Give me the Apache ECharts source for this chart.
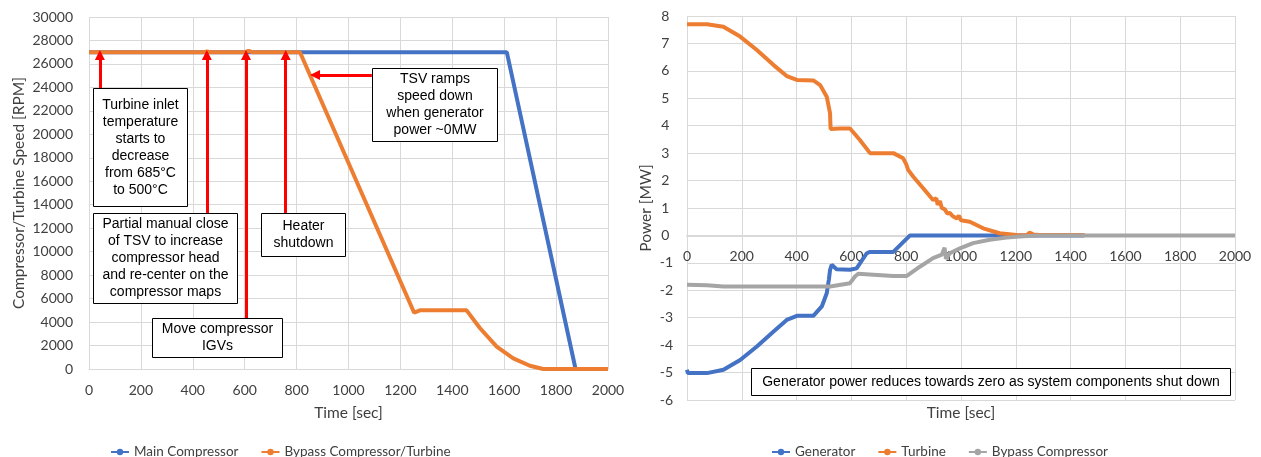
<!DOCTYPE html>
<html><head><meta charset="utf-8">
<script src="https://cdn.jsdelivr.net/npm/echarts@6/dist/echarts.min.js"></script>
<style>html,body{margin:0;padding:0;background:#fff}#c{width:1261px;height:457px}</style>
</head><body><div id="c"></div>
<script>
// left chart: speed [RPM] vs time [sec]
var mainCompressor = [[0,27000],[1610,27000],[1875,0],[2000,0]];
var bypassTurbine = [[0,27000],[440,27000],[455,27060],[470,27000],[600,27000],[615,27120],[630,27000],[813,27000],
  [1253,4800],[1275,5000],[1455,5000],[1507,3470],[1571,1900],[1635,910],[1699,280],[1750,0],[2000,0]];

// right chart: power [MW] vs time [sec]
var generator = [[0,-4.90],[3,-5.02],[73,-5.02],[133,-4.90],[194,-4.54],[255,-4.05],[316,-3.50],[364,-3.08],[401,-2.93],
  [461,-2.93],[492,-2.59],[510,-2.11],[518,-1.6],[522,-1.26],[528,-1.07],[546,-1.23],[595,-1.25],[619,-1.2],
  [656,-0.65],[668,-0.6],[753,-0.6],[814,0],[1450,0]];
var turbine = [[0,7.70],[73,7.70],[133,7.61],[194,7.25],[255,6.76],[316,6.21],[364,5.81],[401,5.67],[461,5.65],
  [486,5.48],[510,5.06],[522,4.46],[524,3.88],[558,3.90],[595,3.90],[631,3.48],[668,3.0],[753,3.0],[789,2.81],
  [800,2.6],[807,2.39],[826,2.14],[862,1.72],[898,1.29],[910,1.35],[915,1.12],[923,1.25],[930,1.0],[941,0.95],
  [950,0.8],[959,0.82],[970,0.7],[985,0.62],[992,0.72],[1000,0.55],[1032,0.50],[1081,0.26],[1141,0.08],
  [1202,0.02],[1240,0.01],[1250,0.1],[1265,0.03],[1287,0.02],[1451,0.02]];
var bypassCompressor = [[0,-1.80],[73,-1.82],[133,-1.86],[522,-1.86],[595,-1.74],[613,-1.50],[625,-1.40],[680,-1.43],
  [753,-1.48],[801,-1.48],[850,-1.14],[898,-0.83],[930,-0.7],[940,-0.45],[945,-0.85],[959,-0.65],[996,-0.47],
  [1044,-0.28],[1105,-0.16],[1166,-0.08],[1226,-0.03],[1290,0],[2000,0]];

// annotation arrows on the left chart: [x, from y, to y]
var arrows = [[42,23950,26760],[454,13300,26760],[605,4350,26760],[758,13300,26760]];
var tsvArrow = [[1090,25050],[871,25050]];

var FONT = 'Lato, "Open Sans", sans-serif';
var NOTE_FONT = '"Liberation Sans", Arial, sans-serif';
var GRID = '#d9d9d9';
var TXT = '#404040';

// right grid geometry (px) so the time axis can sit on the zero line
var R_TOP = 16, R_BOTTOM = 57, R_H = 457 - R_TOP - R_BOTTOM;
var P_MIN = -6, P_MAX = 8;
var zeroShift = -R_H * (0 - P_MIN) / (P_MAX - P_MIN);

function box(x, y, w, h, text) {
  return {
    type: 'group', left: x, top: y, silent: true, z: 100,
    children: [
      { type: 'rect', z: 100, shape: { x: 0, y: 0, width: w, height: h },
        style: { fill: '#fff', stroke: '#000', lineWidth: 1 } },
      { type: 'text', z: 101, x: w / 2, y: h / 2,
        style: { text: text, align: 'center', verticalAlign: 'middle', fill: '#000',
          font: '14px ' + NOTE_FONT, lineHeight: 17 } }
    ]
  };
}

var arrowLines = arrows.map(function (a) { return [{ coord: [a[0], a[1]] }, { coord: [a[0], a[2]] }]; });
arrowLines.push([{ coord: tsvArrow[0] }, { coord: tsvArrow[1] }]);

function plain(v) { return String(v); }

function xAxisBase(idx) {
  return {
    type: 'value', gridIndex: idx, min: 0, max: 2000, interval: 200, position: 'bottom',
    axisLine: { onZero: false, lineStyle: { color: GRID, width: 1 } }, axisTick: { show: false },
    axisLabel: { color: TXT, fontFamily: FONT, fontSize: 14, margin: 14, formatter: plain },
    splitLine: { lineStyle: { color: GRID } },
    name: 'Time [sec]', nameLocation: 'middle',
    nameTextStyle: { color: TXT, fontFamily: FONT, fontSize: 15.5 }
  };
}

var xa0 = xAxisBase(0); xa0.nameGap = 36;
var xa1 = xAxisBase(1); xa1.offset = zeroShift; xa1.nameGap = 170;
xa1.axisLine.lineStyle = { color: GRID, width: 2 };

var lineCommon = { type: 'line', showSymbol: false, symbol: 'circle', symbolSize: 5, smooth: false, animation: false };

var chart = echarts.init(document.getElementById('c'), null, { renderer: 'canvas' });
chart.setOption({
  animation: false,
  grid: [
    { left: 89, right: 653, top: 17, bottom: 88, containLabel: false, outerBoundsMode: 'none' },
    { left: 687, right: 26, top: R_TOP, bottom: R_BOTTOM, containLabel: false, outerBoundsMode: 'none' }
  ],
  xAxis: [xa0, xa1],
  yAxis: [
    { type: 'value', gridIndex: 0, min: 0, max: 30000, interval: 2000,
      axisLine: { show: false }, axisTick: { show: false },
      axisLabel: { color: TXT, fontFamily: FONT, fontSize: 14, margin: 16, formatter: plain },
      splitLine: { lineStyle: { color: GRID } },
      name: 'Compressor/Turbine Speed [RPM]', nameLocation: 'middle', nameGap: 62,
      nameTextStyle: { color: TXT, fontFamily: FONT, fontSize: 15.5 } },
    { type: 'value', gridIndex: 1, min: P_MIN, max: P_MAX, interval: 1,
      axisLine: { show: false }, axisTick: { show: false },
      axisLabel: { color: TXT, fontFamily: FONT, fontSize: 14, margin: 14,
        formatter: function (v) { return v >= 0 ? v + ' ' : String(v); } },
      splitLine: { lineStyle: { color: GRID } },
      name: 'Power [MW]', nameLocation: 'middle', nameGap: 33,
      nameTextStyle: { color: TXT, fontFamily: FONT, fontSize: 15.5 } }
  ],
  legend: [
    { data: ['Main Compressor', 'Bypass Compressor/Turbine'], left: 105, top: 440, itemWidth: 18, itemHeight: 8, itemGap: 22,
      textStyle: { color: TXT, fontFamily: FONT, fontSize: 13.5 }, lineStyle: { width: 2 } },
    { data: ['Generator', 'Turbine', 'Bypass Compressor'], left: 766, top: 440, itemWidth: 18, itemHeight: 8, itemGap: 22,
      textStyle: { color: TXT, fontFamily: FONT, fontSize: 13.5 }, lineStyle: { width: 2 } }
  ],
  series: [
    Object.assign({}, lineCommon, { name: 'Main Compressor', xAxisIndex: 0, yAxisIndex: 0, data: mainCompressor,
      z: 2, itemStyle: { color: '#4472C4' }, lineStyle: { color: '#4472C4', width: 4 } }),
    Object.assign({}, lineCommon, { name: 'Bypass Compressor/Turbine', xAxisIndex: 0, yAxisIndex: 0, data: bypassTurbine,
      z: 3, itemStyle: { color: '#ED7D31' }, lineStyle: { color: '#ED7D31', width: 4 },
      markLine: { silent: true, symbol: ['none', 'triangle'], symbolSize: [10, 10], label: { show: false },
        lineStyle: { color: '#FF0000', width: 3, type: 'solid' }, data: arrowLines, z: 5 } }),
    Object.assign({}, lineCommon, { name: 'Generator', xAxisIndex: 1, yAxisIndex: 1, data: generator,
      z: 2, itemStyle: { color: '#4472C4' }, lineStyle: { color: '#4472C4', width: 4 } }),
    Object.assign({}, lineCommon, { name: 'Turbine', xAxisIndex: 1, yAxisIndex: 1, data: turbine,
      z: 3, itemStyle: { color: '#ED7D31' }, lineStyle: { color: '#ED7D31', width: 4 } }),
    Object.assign({}, lineCommon, { name: 'Bypass Compressor', xAxisIndex: 1, yAxisIndex: 1, data: bypassCompressor,
      z: 4, itemStyle: { color: '#A5A5A5' }, lineStyle: { color: '#A5A5A5', width: 4 } })
  ],
  graphic: [
    box(93, 88, 94, 118, 'Turbine inlet\ntemperature\nstarts to\ndecrease\nfrom 685°C\nto 500°C'),
    box(93, 213, 144, 90, 'Partial manual close\nof TSV to increase\ncompressor head\nand re-center on the\ncompressor maps'),
    box(152, 318, 130, 39, 'Move compressor\nIGVs'),
    box(261, 213, 84, 43, 'Heater\nshutdown'),
    box(372, 68, 125, 73, 'TSV ramps\nspeed down\nwhen generator\npower ~0MW'),
    box(751, 368, 479, 27, 'Generator power reduces towards zero as system components shut down')
  ]
});
</script>
</body></html>
